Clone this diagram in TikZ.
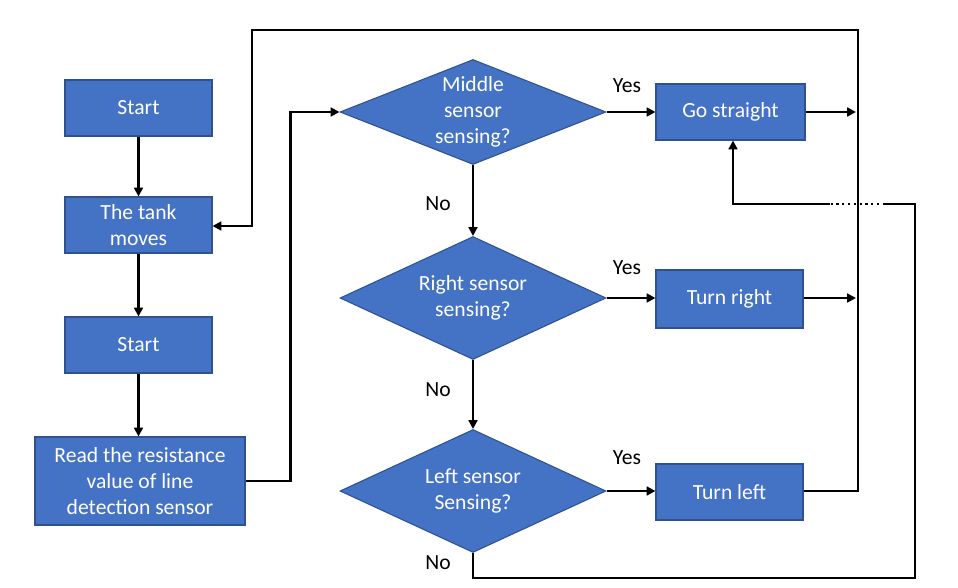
\documentclass[tikz,border=0pt]{standalone}
\usepackage{fontspec}
\setmainfont{Carlito}
\usetikzlibrary{arrows.meta, shapes.geometric, positioning}
\definecolor{boxblue}{HTML}{4472C4}
\definecolor{boxline}{HTML}{2F528F}
\def\px{0.02cm}
\tikzset{
    stepbox/.style={draw=boxline, fill=boxblue, line width=0.6pt, text=white,
        minimum width=147*\px, minimum height=56*\px, inner sep=2pt,
        align=center, font=\fontsize{12.3}{15}\selectfont},
    decide/.style={diamond, draw=boxline, fill=boxblue, line width=0.6pt,
        minimum width=266*\px, minimum height=#1*\px, inner sep=0pt},
    decide/.default={123},
    dtext/.style={text=white, align=center, font=\fontsize{12.3}{15}\selectfont},
    flow/.style={line width=1.3pt, -{Triangle[length=5pt,width=5pt]}},
    wire/.style={line width=1.3pt},
    answer/.style={font=\fontsize{12.3}{15}\selectfont}
}
\begin{document}
\begin{tikzpicture}[x=\px, y=-\px]
    \useasboundingbox (0,0) rectangle (958,588);
    % left column
    \node[stepbox] (start1) at (138.5,108) {Start};
    \node[stepbox] (tank) at (138.5,225) {The tank\\moves};
    \node[stepbox] (start2) at (138.5,345) {Start};
    \node[stepbox, minimum width=210*\px, minimum height=88*\px] (read) at (140,481)
        {Read the resistance\\value of line\\detection sensor};
    % decisions
    \node[decide=105, label={[dtext]center:Middle\\sensor\\sensing?}] (mid) at (473,112) {};
    \node[decide, label={[dtext]center:Right sensor\\sensing?}] (rgt) at (473,298) {};
    \node[decide, label={[dtext]center:Left sensor\\Sensing?}] (lft) at (473,491) {};
    % actions
    \node[stepbox, minimum width=149*\px] (go) at (730.5,112) {Go straight};
    \node[stepbox, minimum height=58*\px] (turnr) at (729.5,299) {Turn right};
    \node[stepbox] (turnl) at (729.5,492) {Turn left};
    % answers
    \node[answer] (yes1) at (627,86) {Yes};
    \node[answer] (yes2) at (627,268) {Yes};
    \node[answer] (yes3) at (627,458) {Yes};
    \node[answer] (no1) at (438,204) {No};
    \node[answer] (no2) at (438,390) {No};
    \node[answer] (no3) at (438,563) {No};
    % free ends
    \coordinate (bus1) at (856,112);
    \coordinate (bus2) at (856,298);
    \coordinate (dotR) at (885,204);
    \coordinate (dotL) at (830,204);
    \coordinate (goin) at (733,204);
    % connectors
    \draw[flow] (start1) -- (tank);
    \draw[flow] (tank) -- (start2);
    \draw[flow] (start2.south) -- (start2.south |- read.north);
    \draw[flow] (read.east) -- ++(45,0) |- (mid.west);
    \draw[flow] (mid) -- (rgt);
    \draw[flow] (rgt) -- (lft);
    \draw[flow] (mid.east) -- (go.west);
    \draw[flow] (rgt.east) -- (turnr.west |- rgt.east);
    \draw[flow] (lft.east) -- (turnl.west |- lft.east);
    \draw[flow] (go.east) -- (bus1);
    \draw[flow] (turnr.east |- bus2) -- (bus2);
    \draw[flow] (turnl.east |- lft.east) -- (858,491) -- (858,30) -- (252,30) -- (252,226) -- (tank.east |- 0,226);
    \draw[wire] (lft.south) -- (473,578) -- (915,578) |- (dotR);
    \draw[wire, dotted] (dotR) -- (dotL);
    \draw[flow] (dotL) -- (goin) -- (goin |- go.south);
\end{tikzpicture}
\end{document}
